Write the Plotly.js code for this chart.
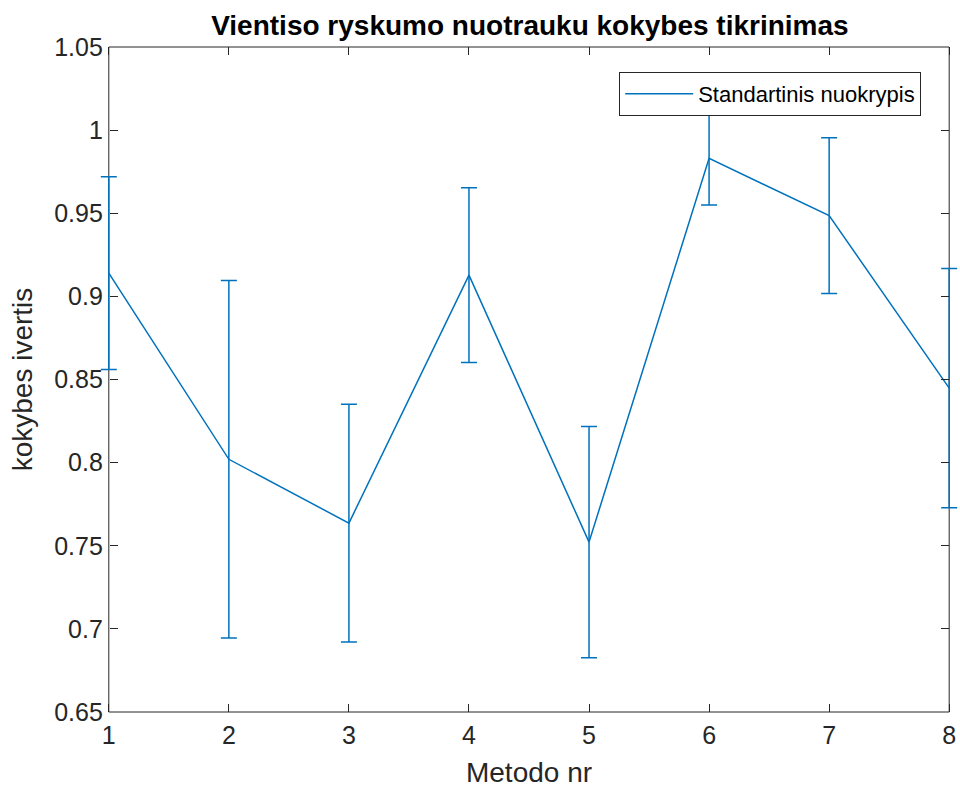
<!DOCTYPE html>
<html>
<head>
<meta charset="utf-8">
<script src="https://cdn.plot.ly/plotly-3.0.1.min.js"></script>
<style>html,body{margin:0;padding:0;background:#fff;}#chart{width:960px;height:789px;}</style>
</head>
<body>
<div id="chart"></div>
<script>
const methods = [1, 2, 3, 4, 5, 6, 7, 8];
const quality = [0.914, 0.802, 0.7636, 0.9128, 0.7522, 0.983, 0.9486, 0.8448];
const stdDev = [0.058, 0.1075, 0.0715, 0.0525, 0.0695, 0.0281, 0.0468, 0.0719];
const xTicks = [1, 2, 3, 4, 5, 6, 7, 8];
const yTicks = [0.65, 0.7, 0.75, 0.8, 0.85, 0.9, 0.95, 1, 1.05];
const yTickText = ['0.65', '0.7', '0.75', '0.8', '0.85', '0.9', '0.95', '1', '1.05'];

const color = '#0072BD';
const axisColor = '#262626';
const font = 'Liberation Sans, Arial, sans-serif';

// box limits in data units; the x range is padded so edge error-bar caps are not clipped
const xMin = 1, xMax = 8, yMin = 0.65, yMax = 1.05;
const pad = 0.09;
const xRange = [xMin - pad, xMax + pad];
const fracL = (xMin - xRange[0]) / (xRange[1] - xRange[0]);
const fracR = (xMax - xRange[0]) / (xRange[1] - xRange[0]);

const trace = {
  x: methods,
  y: quality,
  type: 'scatter',
  mode: 'lines',
  name: 'Standartinis nuokrypis',
  line: {color: color, width: 1.5},
  error_y: {type: 'data', array: stdDev, visible: true, color: color, thickness: 1.5, width: 8}
};

const W = 960, H = 789;
const boxL = 109, boxR = 949, boxT = 47, boxB = 712;
const pxPerUnit = (boxR - boxL) / (xMax - xMin);
const padPx = pad * pxPerUnit;
const plotL = boxL - padPx, plotW = (boxR - boxL) + 2 * padPx;

const yAxisCommon = {
  range: [yMin, yMax], tickvals: yTicks,
  showgrid: false, zeroline: false, showline: false,
  ticks: 'inside', ticklen: 8, tickcolor: axisColor, tickwidth: 1
};

const layout = {
  width: W, height: H,
  margin: {l: plotL, r: W - boxR - padPx, t: boxT, b: H - boxB},
  paper_bgcolor: '#fff', plot_bgcolor: '#fff',
  font: {family: font, color: axisColor},
  title: {text: '<b>Vientiso ryskumo nuotrauku kokybes tikrinimas</b>', font: {family: font, size: 28, color: '#000'}, x: 0.552, xanchor: 'center', y: 0.968, yanchor: 'middle'},
  xaxis: {
    range: xRange, tickvals: xTicks, ticktext: xTicks.map(String),
    showgrid: false, zeroline: false, showline: false,
    mirror: 'ticks', ticks: 'inside', ticklen: 8, tickcolor: axisColor,
    tickfont: {size: 25, color: axisColor}, ticklabelstandoff: 6,
    title: {text: 'Metodo nr', font: {size: 28, color: axisColor}, standoff: 14}
  },
  yaxis: Object.assign({}, yAxisCommon, {
    anchor: 'free', position: fracL, side: 'left',
    ticktext: yTickText, tickfont: {size: 25, color: axisColor}, ticklabelstandoff: 6,
    title: {text: 'kokybes ivertis', font: {size: 28, color: axisColor}, standoff: 12}
  }),
  yaxis2: Object.assign({}, yAxisCommon, {
    overlaying: 'y', anchor: 'free', position: fracR, side: 'right',
    showticklabels: false
  }),
  shapes: [{
    type: 'rect', xref: 'x', yref: 'paper', x0: xMin, x1: xMax, y0: 0, y1: 1,
    line: {color: axisColor, width: 1}, fillcolor: 'rgba(0,0,0,0)', layer: 'below'
  }],
  showlegend: true,
  legend: {
    x: (921 - plotL) / plotW, xanchor: 'right', y: (boxB - 72) / (boxB - boxT), yanchor: 'top',
    bgcolor: '#fff', bordercolor: axisColor, borderwidth: 1,
    itemwidth: 68,
    font: {size: 22, color: '#000'}
  }
};

// invisible helper trace so yaxis2 (mirrored right-hand ticks) is drawn
const helper = {x: [xMin], y: [yMin], yaxis: 'y2', type: 'scatter', mode: 'markers',
  marker: {opacity: 0}, showlegend: false, hoverinfo: 'skip'};

Plotly.newPlot('chart', [trace, helper], layout, {displayModeBar: false, staticPlot: true});
</script>
</body>
</html>
